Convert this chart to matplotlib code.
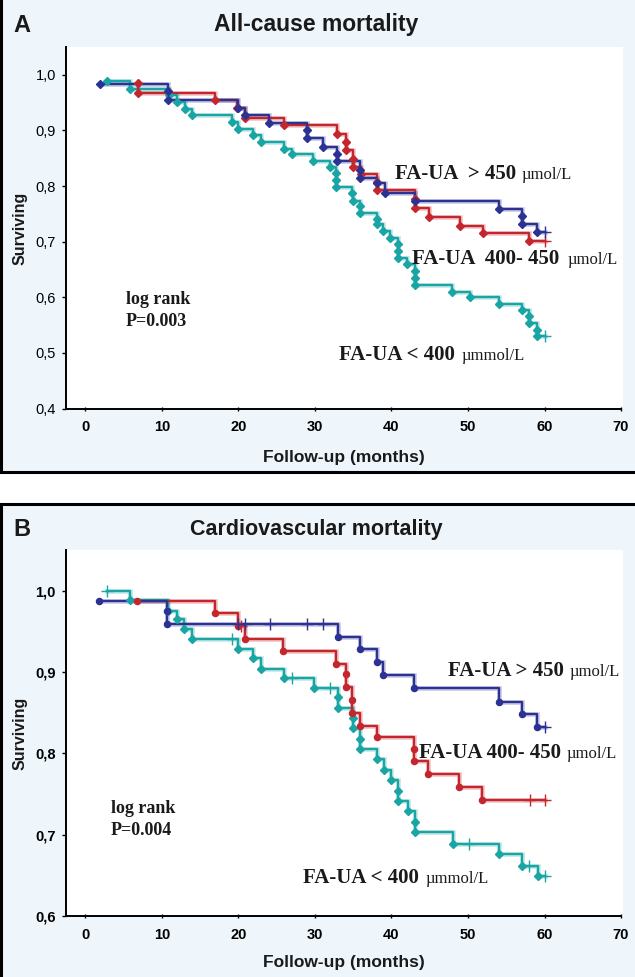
import matplotlib
matplotlib.use('Agg')
import matplotlib.pyplot as plt
from matplotlib.patches import Rectangle

# ---------------- data ----------------
x_ticks = [0, 10, 20, 30, 40, 50, 60, 70]
yticks_a = [0.4, 0.5, 0.6, 0.7, 0.8, 0.9, 1.0]
yticks_b = [0.6, 0.7, 0.8, 0.9, 1.0]
ytick_labels_a = ['0,4', '0,5', '0,6', '0,7', '0,8', '0,9', '1,0']
ytick_labels_b = ['0,6', '0,7', '0,8', '0,9', '1,0']

# Panel A - all-cause mortality (event times, survival after event, censor times)
a_hi_t = [1.9, 10.8, 10.8, 20.0, 20.8, 24.0, 29.0, 29.0, 31.0, 32.9, 32.9, 35.9, 35.9, 38.1, 39.1, 43.1, 54.1, 57.0, 57.0, 59.0]
a_hi_s = [0.984, 0.970, 0.955, 0.941, 0.928, 0.913, 0.900, 0.887, 0.871, 0.858, 0.845, 0.829, 0.815, 0.805, 0.787, 0.773, 0.758, 0.747, 0.731, 0.717]
a_hi_c = [60.1]

a_mid_t = [6.9, 6.9, 16.9, 19.8, 20.8, 25.9, 32.9, 34.1, 34.1, 35.0, 35.0, 36.0, 38.1, 38.1, 43.1, 43.1, 44.9, 49.0, 51.9, 58.0]
a_mid_s = [0.985, 0.967, 0.954, 0.940, 0.922, 0.909, 0.893, 0.880, 0.864, 0.849, 0.835, 0.822, 0.807, 0.793, 0.777, 0.761, 0.745, 0.728, 0.715, 0.701]
a_mid_c = [60.1]

a_lo_t = [2.85, 5.8, 10.9, 11.9, 13.0, 13.9, 19.1, 20.0, 21.9, 23.0, 25.9, 27.0, 29.8, 32.0, 32.8, 32.8, 32.8, 34.8, 35.0, 35.9, 35.9,
          38.1, 38.1, 38.9, 39.8, 40.9, 40.9, 40.9, 42.0, 43.1, 43.1, 43.1, 47.9, 50.2, 54.1, 57.1, 58.0, 58.0, 59.0, 59.0]
a_lo_s = [0.988, 0.974, 0.964, 0.952, 0.939, 0.928, 0.916, 0.903, 0.892, 0.880, 0.867, 0.857, 0.845, 0.835, 0.823, 0.810, 0.799, 0.787, 0.773, 0.764, 0.752,
          0.740, 0.731, 0.719, 0.707, 0.695, 0.683, 0.671, 0.659, 0.647, 0.635, 0.622, 0.610, 0.600, 0.588, 0.578, 0.567, 0.554, 0.542, 0.530]
a_lo_c = [60.1]

# Panel B - cardiovascular mortality
b_hi_t = [1.8, 10.7, 10.7, 33.0, 35.9, 38.1, 38.9, 42.9, 54.1, 57.0, 59.0]
b_hi_s = [0.987, 0.975, 0.959, 0.943, 0.928, 0.912, 0.896, 0.880, 0.863, 0.848, 0.832]
b_hi_c = [20.0, 20.8, 24.1, 28.9, 31.1, 60.1]

b_mid_t = [6.8, 16.9, 20.0, 20.9, 25.8, 32.8, 34.0, 34.0, 34.9, 34.9, 35.9, 38.1, 42.9, 42.9, 44.8, 48.8, 51.8]
b_mid_s = [0.987, 0.973, 0.957, 0.941, 0.926, 0.910, 0.897, 0.882, 0.866, 0.850, 0.834, 0.820, 0.805, 0.791, 0.775, 0.759, 0.743]
b_mid_c = [20.3, 58.1, 60.1]

b_lo_t = [5.8, 10.8, 12.0, 12.9, 13.9, 20.0, 21.9, 23.0, 25.9, 29.9, 33.0, 33.0, 35.0, 35.0, 35.9, 35.9,
          38.1, 39.0, 39.9, 40.9, 40.9, 42.1, 43.1, 43.1, 48.0, 54.1, 57.1, 59.1]
b_lo_s = [0.988, 0.975, 0.965, 0.953, 0.941, 0.928, 0.917, 0.904, 0.893, 0.880, 0.869, 0.856, 0.843, 0.831, 0.818, 0.805,
          0.793, 0.780, 0.767, 0.754, 0.742, 0.729, 0.716, 0.703, 0.689, 0.676, 0.662, 0.649]
b_lo_c = [2.85, 19.1, 27.0, 32.0, 50.1, 58.0, 60.1]

# ---------------- style ----------------
W, H = 635, 977
BG = '#EEF6FC'
BLUE = '#2B3293'
RED = '#C4262E'
TEAL = '#1AA5A5'
SANS = 'Liberation Sans'
SERIF = 'Liberation Serif'

fig = plt.figure(figsize=(W / 100, H / 100), dpi=100)


def fx(px):
    return px / W


def fy(py):
    return 1 - py / H


# panel backgrounds with borders
fig.patches.append(Rectangle((fx(1), fy(472)), fx(660), fy(-10) - fy(472), transform=fig.transFigure,
                             facecolor=BG, edgecolor='black', lw=2.2, zorder=-5))
fig.patches.append(Rectangle((fx(1), fy(990)), fx(660), fy(504) - fy(990), transform=fig.transFigure,
                             facecolor=BG, edgecolor='black', lw=2.2, zorder=-5))


def make_axes(top, bottom, ylim, yticks, ylabels, ybold):
    left, right = 65.5, 623
    ax = fig.add_axes([fx(left), fy(bottom), fx(right) - fx(left), fy(top) - fy(bottom)])
    ax.set_zorder(1)
    ax.set_facecolor('white')
    ax.set_xlim(-2.61, 70.26)
    ax.set_ylim(*ylim)
    for s in ['top', 'right']:
        ax.spines[s].set_visible(False)
    ax.spines['left'].set_linewidth(1.4)
    ax.spines['bottom'].set_linewidth(1.4)
    ax.spines['bottom'].set_bounds(-2.61, 70)
    ax.set_xticks(x_ticks)
    ax.set_xticklabels([str(v) for v in x_ticks], fontsize=10.5, fontweight='bold', family=SANS)
    ax.set_yticks(yticks)
    ax.set_yticklabels(ylabels, fontsize=10.5, fontweight='bold' if ybold else 'normal', family=SANS)
    ax.tick_params(axis='x', direction='inout', length=3, width=1, pad=7)
    ax.tick_params(axis='y', direction='out', length=3, width=1, pad=4)
    return ax


def draw_group(ax, times, surv, cens, color, marker, ms):
    start = min(times[0], min(cens))
    end = max(cens)
    level0 = surv[0] if start >= times[0] else 1.0
    xs = [start] + list(times) + [end]
    ys = [level0] + list(surv) + [surv[-1]]
    ax.step(xs, ys, where='post', color=color, lw=3.4, alpha=0.25, solid_joinstyle='miter', zorder=2)
    ax.step(xs, ys, where='post', color=color, lw=1.7, zorder=3)
    ax.plot(times, surv, ls='none', marker=marker, ms=ms, color=color, mec=color, zorder=4)
    cy = []
    for c in cens:
        lev = level0
        for t, s in zip(times, surv):
            if t <= c:
                lev = s
        cy.append(lev)
    ax.plot(cens, cy, ls='none', marker='+', ms=8, mew=1.0, color=color, zorder=4)


# ---------------- panel A ----------------
axA = make_axes(47, 408.5, (0.4, 1.05), yticks_a, ytick_labels_a, False)
draw_group(axA, a_lo_t, a_lo_s, a_lo_c, TEAL, 'D', 4.4)
draw_group(axA, a_mid_t, a_mid_s, a_mid_c, RED, 'D', 4.4)
draw_group(axA, a_hi_t, a_hi_s, a_hi_c, BLUE, 'D', 4.4)

# ---------------- panel B ----------------
axB = make_axes(550, 916, (0.6, 1.05), yticks_b, ytick_labels_b, True)
draw_group(axB, b_lo_t, b_lo_s, b_lo_c, TEAL, 'D', 4.4)
draw_group(axB, b_mid_t, b_mid_s, b_mid_c, RED, 'o', 4.4)
draw_group(axB, b_hi_t, b_hi_s, b_hi_c, BLUE, 'o', 4.4)

# ---------------- texts ----------------
TXT = '#1a1a1a'


def ftext(px, py, s, **kw):
    fig.text(fx(px), fy(py), s, color=TXT, zorder=5, **kw)


# headings
ftext(13, 25, 'A', fontsize=17, fontweight='bold', family=SANS, va='center', ha='left')
ftext(316, 25, 'All-cause mortality', fontsize=16.5, fontweight='bold', family=SANS, va='center', ha='center')
ftext(13, 530, 'B', fontsize=17, fontweight='bold', family=SANS, va='center', ha='left')
ftext(316, 530, 'Cardiovascular mortality', fontsize=15.5, fontweight='bold', family=SANS, va='center', ha='center')

# axis titles
for yc, xl in [(228, 457), (733, 962)]:
    ftext(20, yc, 'Surviving', fontsize=11.5, fontweight='bold', family=SANS, rotation=90, va='center', ha='center')
    ftext(344, xl, 'Follow-up (months)', fontsize=12.5, fontweight='bold', family=SANS, va='center', ha='center')

# log rank
ftext(126, 304, 'log rank', fontsize=13, fontweight='bold', family=SERIF, va='baseline')
ftext(126, 326, 'P=0.003', fontsize=13, fontweight='bold', family=SERIF, va='baseline')
ftext(111, 813, 'log rank', fontsize=13, fontweight='bold', family=SERIF, va='baseline')
ftext(111, 835, 'P=0.004', fontsize=13, fontweight='bold', family=SERIF, va='baseline')

# group labels
labels = [
    (395, 179, 'FA-UA  > 450', 522, 'µmol/L'),
    (412, 264, 'FA-UA  400- 450', 568, 'µmol/L'),
    (339, 360, 'FA-UA < 400', 462, 'µmmol/L'),
    (448, 676, 'FA-UA > 450', 570, 'µmol/L'),
    (419, 758, 'FA-UA 400- 450', 567, 'µmol/L'),
    (303, 883, 'FA-UA < 400', 426, 'µmmol/L'),
]
for x0, yb, main, xu, unit in labels:
    ftext(x0, yb, main, fontsize=15, fontweight='bold', family=SERIF, va='baseline')
    ftext(xu, yb, unit, fontsize=12, family=SERIF, va='baseline')

fig.savefig('out.png', dpi=100, facecolor='white')
